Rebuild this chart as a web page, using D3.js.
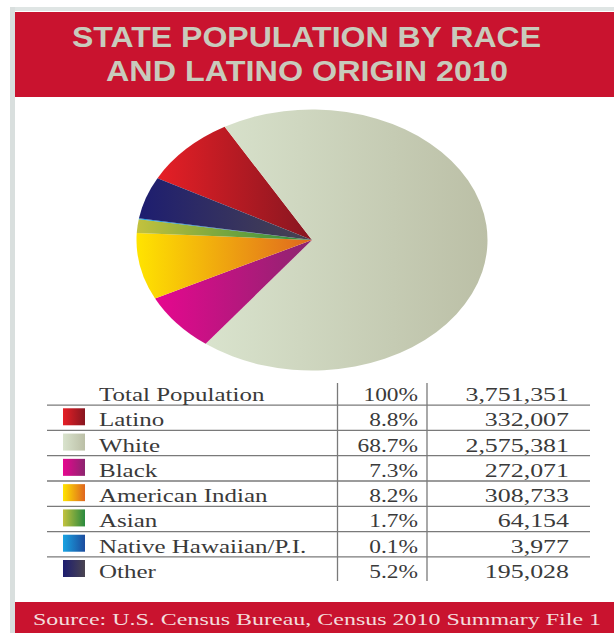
<!DOCTYPE html>
<html>
<head>
<meta charset="utf-8">
<script src="https://cdn.jsdelivr.net/npm/d3@7/dist/d3.min.js"></script>
<style>
html,body{margin:0;padding:0;background:#fff;}
svg{display:block;}
</style>
</head>
<body>
<svg id="chart" width="614" height="633"></svg>
<script>
// ---- data ----
const titleLines = ["STATE POPULATION BY RACE", "AND LATINO ORIGIN 2010"];
const categories = ["Latino", "White", "Black", "American Indian", "Asian", "Native Hawaiian/P.I.", "Other"];
const population = [332007, 2575381, 272071, 308733, 64154, 3977, 195028];
const percentLabels = ["8.8%", "68.7%", "7.3%", "8.2%", "1.7%", "0.1%", "5.2%"];
const totalLabel = "Total Population";
const totalPercent = "100%";
const sourceText = "Source: U.S. Census Bureau, Census 2010 Summary File 1";
const gradientStops = [
  ["#e61f26", "#871620"],
  ["#d9e3cd", "#bbbfa6"],
  ["#e6078f", "#8c256f"],
  ["#ffe400", "#df661f"],
  ["#c3c23e", "#2a8a3e"],
  ["#19a3e2", "#1c4c9e"],
  ["#1d1d70", "#4a4450"]
];

const svg = d3.select("#chart");
const defs = svg.append("defs");
const RED = "#c9132f";

// frame
svg.append("rect").attr("x", 10).attr("y", 7).attr("width", 604).attr("height", 4).attr("fill", "#dfe5e4");
svg.append("rect").attr("x", 10).attr("y", 7).attr("width", 5).attr("height", 626).attr("fill", "#d9dfde");

// title band
svg.append("rect").attr("x", 15).attr("y", 12).attr("width", 599).attr("height", 85).attr("fill", RED);
const titlePos = [{x: 72, y: 47, w: 469}, {x: 106, y: 81, w: 402}];
svg.selectAll("text.title").data(titleLines).join("text")
  .attr("class", "title")
  .attr("x", (d, i) => titlePos[i].x)
  .attr("y", (d, i) => titlePos[i].y)
  .attr("textLength", (d, i) => titlePos[i].w)
  .attr("lengthAdjust", "spacingAndGlyphs")
  .attr("font-family", "'Liberation Sans', Arial, sans-serif")
  .attr("font-weight", "bold")
  .attr("font-size", 29)
  .attr("fill", "#c8cbbc")
  .text(d => d);

// gradients
gradientStops.forEach((g, i) => {
  const lg = defs.append("linearGradient").attr("id", "grad" + i)
    .attr("x1", "0%").attr("y1", "0%").attr("x2", "100%").attr("y2", "0%");
  lg.append("stop").attr("offset", "0%").attr("stop-color", g[0]);
  lg.append("stop").attr("offset", "100%").attr("stop-color", g[1]);
});

// pie (circular pie stretched into an ellipse)
const cx = 312, cy = 240, rx = 175.5, ry = 130.5, R = 100;
const startAngle = -61.7 * Math.PI / 180;
const pie = d3.pie().sort(null).value(d => d)
  .startAngle(startAngle).endAngle(startAngle + 2 * Math.PI);
const arc = d3.arc().innerRadius(0).outerRadius(R);
svg.append("g")
  .attr("transform", `translate(${cx},${cy}) scale(${rx / R},${ry / R})`)
  .selectAll("path").data(pie(population)).join("path")
  .attr("d", arc)
  .attr("fill", (d, i) => `url(#grad${i})`);

// table
const y = d3.scaleLinear().domain([0, 7]).range([401, 578]);
const fmt = d3.format(",");
const total = d3.sum(population);
const rows = [{label: totalLabel, pct: totalPercent, val: fmt(total), swatch: false}]
  .concat(categories.map((c, i) => ({label: c, pct: percentLabels[i], val: fmt(population[i]), swatch: true, idx: i})));

const table = svg.append("g");
// horizontal rules
table.selectAll("line.h").data(d3.range(7)).join("line")
  .attr("class", "h")
  .attr("x1", 47).attr("x2", 590)
  .attr("y1", i => (y(i) + y(i + 1)) / 2 - 8.5)
  .attr("y2", i => (y(i) + y(i + 1)) / 2 - 8.5)
  .attr("stroke", "#7a7a7a").attr("stroke-width", 1.3);
// vertical rules
[337.5, 427].forEach(x => {
  table.append("line").attr("x1", x).attr("x2", x).attr("y1", 383).attr("y2", 581)
    .attr("stroke", "#7a7a7a").attr("stroke-width", 1.3);
});

const font = "'Liberation Serif', 'Times New Roman', serif";
const ink = "#3a3a3a";
const rowG = table.selectAll("g.row").data(rows).join("g").attr("class", "row");
rowG.filter(d => d.swatch).append("rect")
  .attr("x", 63).attr("y", d => y(d.idx + 1) - 18)
  .attr("width", 22).attr("height", 17)
  .attr("fill", d => `url(#grad${d.idx})`);
rowG.append("text")
  .attr("transform", (d, i) => `translate(99,${y(i)}) scale(1.35,1)`)
  .attr("font-family", font).attr("font-size", 18.5).attr("fill", ink)
  .text(d => d.label);
rowG.append("text")
  .attr("transform", (d, i) => `translate(418,${y(i)}) scale(1.3,1)`)
  .attr("text-anchor", "end")
  .attr("font-family", font).attr("font-size", 18).attr("fill", ink)
  .text(d => d.pct);
rowG.append("text")
  .attr("transform", (d, i) => `translate(569,${y(i)}) scale(1.4,1)`)
  .attr("text-anchor", "end")
  .attr("font-family", font).attr("font-size", 18.5).attr("fill", ink)
  .text(d => d.val);

// footer
svg.append("rect").attr("x", 15).attr("y", 602).attr("width", 599).attr("height", 31).attr("fill", RED);
svg.append("text")
  .attr("x", 33).attr("y", 625)
  .attr("textLength", 568).attr("lengthAdjust", "spacingAndGlyphs")
  .attr("font-family", font).attr("font-size", 16).attr("fill", "#f3dcdc")
  .text(sourceText);
</script>
</body>
</html>
